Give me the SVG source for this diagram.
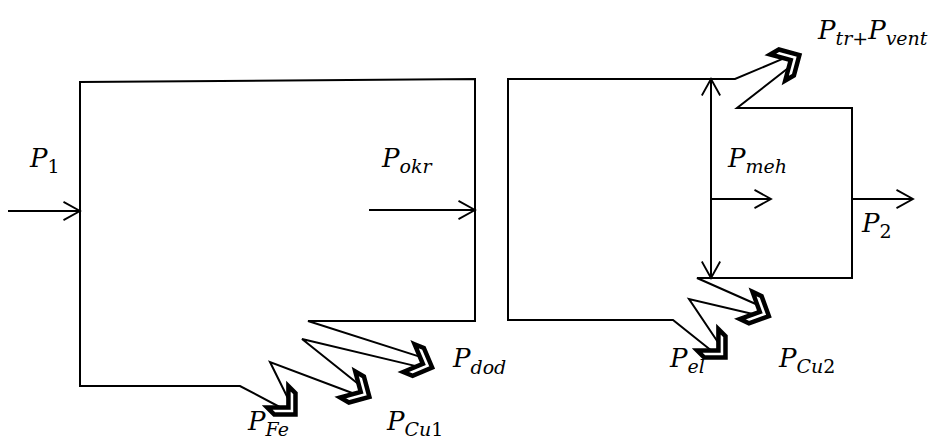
<svg xmlns="http://www.w3.org/2000/svg" xmlns:xlink="http://www.w3.org/1999/xlink" width="933" height="441" viewBox="0 0 933 441">
<style>
  .ln{fill:none;stroke:#000;stroke-width:2;stroke-linejoin:miter}
  .lbl{font-family:"DejaVu Serif","Liberation Serif",serif;font-style:italic;font-size:26px;fill:#000}
  .sub{font-size:19px}
  .up{font-style:normal}
</style>
<defs>
  <marker id="open" markerUnits="userSpaceOnUse" markerWidth="22" markerHeight="22" refX="18" refY="10" orient="auto-start-reverse" viewBox="-2 -2 22 24">
    <path d="M0,0 L18,10 L0,20" fill="none" stroke="#000" stroke-width="2"/>
  </marker>
  <polygon id="chev" points="-13,-15 -3,-15 12,0 -3,15 -13,15 2,0" fill="#fff" stroke="#000" stroke-width="4.5" stroke-linejoin="miter"/>
</defs>
<rect width="933" height="441" fill="#fff"/>

<g id="box-left">
  <polyline class="ln" points="421.9,357.4 308,321 475,321 475,79 80,82 80,386 240,386 282.5,408.5"/>
</g>
<g id="box-right">
  <polyline class="ln" points="785.5,57.7 735,79 508,79 508,320 673,320 712.5,351.5"/>
  <polyline class="ln" points="790.5,66.3 737,108 852,108 852,278 697,278 759.1,305.5"/>
</g>

<g id="connectors">
  <polyline class="ln" points="289.5,401.5 270,362 355.5,394.3"/>
  <polyline class="ln" points="360.5,385.7 302,339 418.1,366.6"/>
  <polyline class="ln" points="719.5,344.5 689,299 754.9,314.5"/>
  <line class="ln" x1="8" y1="211" x2="80" y2="211" marker-end="url(#open)"/>
  <line class="ln" x1="369" y1="210" x2="475" y2="210" marker-end="url(#open)"/>
  <line class="ln" x1="711" y1="199" x2="771" y2="199" marker-end="url(#open)"/>
  <line class="ln" x1="852" y1="199" x2="913" y2="199" marker-end="url(#open)"/>
  <line class="ln" x1="711" y1="79" x2="711" y2="278" marker-start="url(#open)" marker-end="url(#open)"/>
  <use xlink:href="#chev" transform="translate(287,406) rotate(45)"/>
  <use xlink:href="#chev" transform="translate(359,391) rotate(30)"/>
  <use xlink:href="#chev" transform="translate(421,363) rotate(22)"/>
  <use xlink:href="#chev" transform="translate(717,349) rotate(45)"/>
  <use xlink:href="#chev" transform="translate(758,311) rotate(25)"/>
  <use xlink:href="#chev" transform="translate(789,61) rotate(-30)"/>
</g>

<g id="labels">
  <text class="lbl" x="30" y="167">P<tspan class="sub up" dy="6">1</tspan></text>
  <text class="lbl" x="382" y="167">P<tspan class="sub" dy="6">okr</tspan></text>
  <text class="lbl" x="728" y="167">P<tspan class="sub" dy="6">meh</tspan></text>
  <text class="lbl" x="862" y="232">P<tspan class="sub up" dy="6">2</tspan></text>
  <text class="lbl" x="453" y="367">P<tspan class="sub" dy="7">dod</tspan></text>
  <text class="lbl" x="248" y="430">P<tspan class="sub" dy="6">Fe</tspan></text>
  <text class="lbl" x="387" y="430">P<tspan class="sub" dy="6">Cu</tspan><tspan class="sub up">1</tspan></text>
  <text class="lbl" x="670" y="367">P<tspan class="sub" dy="6">el</tspan></text>
  <text class="lbl" x="779" y="367">P<tspan class="sub" dy="6">Cu</tspan><tspan class="sub up">2</tspan></text>
  <text class="lbl" x="818" y="39">P<tspan class="sub" dy="6">tr</tspan><tspan class="sub up">+</tspan><tspan dy="-6">P</tspan><tspan class="sub" dy="6">vent</tspan></text>
</g>
</svg>
